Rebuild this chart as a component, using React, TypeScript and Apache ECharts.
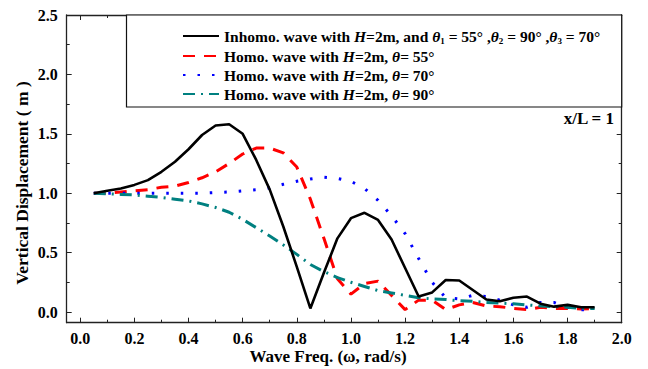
import React, { useEffect, useRef } from "react";
import * as echarts from "echarts";

const FREQ = [0.05, 0.1, 0.15, 0.2, 0.25, 0.3, 0.35, 0.4, 0.45, 0.5, 0.55, 0.6, 0.65, 0.7, 0.75, 0.8, 0.85, 0.9, 0.95, 1.0, 1.05, 1.1, 1.15, 1.2, 1.25, 1.3, 1.35, 1.4, 1.45, 1.5, 1.55, 1.6, 1.65, 1.7, 1.75, 1.8, 1.85, 1.9];

const INHOMO = [1.0, 1.02, 1.04, 1.07, 1.11, 1.18, 1.265, 1.37, 1.49, 1.57, 1.58, 1.5, 1.28, 1.03, 0.72, 0.38, 0.03, 0.33, 0.62, 0.79, 0.835, 0.775, 0.61, 0.37, 0.13, 0.165, 0.27, 0.265, 0.185, 0.105, 0.09, 0.12, 0.13, 0.07, 0.045, 0.06, 0.04, 0.04];
const HOMO55 = [1.0, 1.0, 1.01, 1.02, 1.03, 1.05, 1.06, 1.09, 1.13, 1.18, 1.25, 1.33, 1.38, 1.38, 1.34, 1.22, 0.95, 0.62, 0.28, 0.15, 0.24, 0.26, 0.14, 0.02, 0.1, 0.1, 0.02, 0.06, 0.08, 0.05, 0.045, 0.03, 0.02, 0.04, 0.03, 0.03, 0.025, 0.03];
const HOMO70 = [1.0, 1.0, 1.0, 1.0, 1.0, 1.0, 1.0, 1.0, 1.0, 1.005, 1.01, 1.02, 1.03, 1.045, 1.075, 1.1, 1.12, 1.135, 1.125, 1.1, 1.04, 0.94, 0.81, 0.66, 0.45, 0.25, 0.12, 0.11, 0.14, 0.13, 0.1, 0.06, 0.04, 0.08, 0.08, 0.04, 0.02, 0.02];
const HOMO90 = [1.0, 0.995, 0.99, 0.985, 0.975, 0.965, 0.95, 0.935, 0.91, 0.88, 0.84, 0.78, 0.71, 0.64, 0.565, 0.485, 0.4, 0.34, 0.29, 0.25, 0.215, 0.18, 0.16, 0.14, 0.12, 0.11, 0.105, 0.095, 0.09, 0.08, 0.075, 0.07, 0.06, 0.05, 0.045, 0.04, 0.03, 0.03];

const X_MAJOR = [0, 0.2, 0.4, 0.6, 0.8, 1.0, 1.2, 1.4, 1.6, 1.8, 2.0];
const X_MINOR = [0.1, 0.3, 0.5, 0.7, 0.9, 1.1, 1.3, 1.5, 1.7, 1.9];
const Y_MAJOR = [0, 0.5, 1.0, 1.5, 2.0, 2.5];
const Y_MINOR = [0.25, 0.75, 1.25, 1.75, 2.25];

const SERIES_NAMES = ["inhomo", "homo55", "homo70", "homo90"];
const LEGEND_TEXT: Record<string, string> = {
  inhomo: "{b|Inhomo. wave with }{i|H}{b|=2m, and }{t|θ}{s|1}{b| = 55° ,}{t|θ}{s|2}{b| = 90° ,}{t|θ}{s|3}{b| = 70°}",
  homo55: "{b|Homo. wave with }{i|H}{b|=2m, }{t|θ}{b|= 55°}",
  homo70: "{b|Homo. wave with }{i|H}{b|=2m, }{t|θ}{b|= 70°}",
  homo90: "{b|Homo. wave with }{i|H}{b|=2m, }{t|θ}{b|= 90°}",
};

const FONT = "'Times New Roman', 'Liberation Serif', serif";
const AX = "#222";

function zip(ys: number[]) {
  return FREQ.map((x, i) => [x, ys[i]]);
}

export default function App() {
  const ref = useRef<HTMLDivElement>(null);
  useEffect(() => {
    if (!ref.current) return;
    const chart = echarts.init(ref.current, null, { renderer: "svg" });
    const xBase = { type: "value", min: -0.05, max: 2.0, gridIndex: 0, splitLine: { show: false } };
    const yBase = { type: "value", min: -0.09, max: 2.5, gridIndex: 0, splitLine: { show: false } };
    const lbl = { fontFamily: FONT, fontWeight: "bold", fontSize: 16, color: "#000" };
    const LF = 15.5;
    const rich = {
      b: { fontFamily: FONT, fontWeight: "bold", fontSize: LF, color: "#000", lineHeight: 18 },
      i: { fontFamily: FONT, fontWeight: "bold", fontStyle: "italic", fontSize: LF, color: "#000", lineHeight: 18 },
      t: { fontFamily: FONT, fontWeight: "bold", fontStyle: "italic", fontSize: LF, color: "#000", lineHeight: 18 },
      s: { fontFamily: FONT, fontWeight: "bold", fontSize: 9, color: "#000", verticalAlign: "bottom", lineHeight: 18 },
    };
    chart.setOption({
      animation: false,
      backgroundColor: "#fff",
      grid: { left: 66.7, right: 26.3, top: 15, bottom: 46.3, show: false },
      xAxis: [
        {
          ...xBase,
          position: "bottom",
          axisLine: { show: true, onZero: false, lineStyle: { color: AX, width: 1.3 } },
          axisTick: { show: true, inside: true, length: 5, customValues: X_MAJOR, lineStyle: { color: AX, width: 1 } },
          axisLabel: { ...lbl, margin: 8, customValues: X_MAJOR, formatter: (v: number) => v.toFixed(1) },
        },
        {
          ...xBase,
          position: "bottom",
          axisLine: { show: false, onZero: false },
          axisTick: { show: true, inside: true, length: 3, customValues: X_MINOR, lineStyle: { color: AX, width: 1 } },
          axisLabel: { show: false },
        },
        {
          ...xBase,
          position: "top",
          axisLine: { show: true, onZero: false, lineStyle: { color: AX, width: 1.3 } },
          axisTick: { show: true, inside: true, length: 5, customValues: X_MAJOR, lineStyle: { color: AX, width: 1 } },
          axisLabel: { show: false },
        },
        {
          ...xBase,
          position: "top",
          axisLine: { show: false, onZero: false },
          axisTick: { show: true, inside: true, length: 3, customValues: X_MINOR, lineStyle: { color: AX, width: 1 } },
          axisLabel: { show: false },
        },
      ],
      yAxis: [
        {
          ...yBase,
          position: "left",
          axisLine: { show: true, onZero: false, lineStyle: { color: AX, width: 1.3 } },
          axisTick: { show: true, inside: true, length: 5, customValues: Y_MAJOR, lineStyle: { color: AX, width: 1 } },
          axisLabel: { ...lbl, margin: 9, customValues: Y_MAJOR, formatter: (v: number) => v.toFixed(1) },
        },
        {
          ...yBase,
          position: "left",
          axisLine: { show: false, onZero: false },
          axisTick: { show: true, inside: true, length: 3, customValues: Y_MINOR, lineStyle: { color: AX, width: 1 } },
          axisLabel: { show: false },
        },
        {
          ...yBase,
          position: "right",
          axisLine: { show: true, onZero: false, lineStyle: { color: AX, width: 1.3 } },
          axisTick: { show: true, inside: true, length: 5, customValues: Y_MAJOR, lineStyle: { color: AX, width: 1 } },
          axisLabel: { show: false },
        },
        {
          ...yBase,
          position: "right",
          axisLine: { show: false, onZero: false },
          axisTick: { show: true, inside: true, length: 3, customValues: Y_MINOR, lineStyle: { color: AX, width: 1 } },
          axisLabel: { show: false },
        },
      ],
      legend: {
        orient: "vertical",
        left: 182,
        top: 28,
        itemWidth: 36,
        itemHeight: 14,
        itemGap: 3,
        padding: 0,
        data: SERIES_NAMES,
        itemStyle: { opacity: 0 },
        formatter: (name: string) => LEGEND_TEXT[name],
        textStyle: { fontFamily: FONT, fontWeight: "bold", fontSize: LF, color: "#000", rich },
        z: 5,
      },
      graphic: [
        {
          type: "rect",
          z: 3,
          shape: { x: 126.5, y: 15, width: 495.2, height: 92 },
          style: { fill: "#fff", stroke: "#111", lineWidth: 1.2 },
        },
        {
          type: "text",
          z: 5,
          x: 614,
          y: 118,
          style: { text: "x/L = 1", align: "right", verticalAlign: "middle", fontFamily: FONT, fontWeight: "bold", fontSize: 17, fill: "#000" },
        },
        {
          type: "text",
          x: 22,
          y: 183,
          rotation: Math.PI / 2,
          style: { text: "Vertical Displacement ( m )", align: "center", verticalAlign: "middle", fontFamily: FONT, fontWeight: "bold", fontSize: 17.5, fill: "#000" },
        },
        {
          type: "text",
          x: 328,
          y: 356,
          style: { text: "Wave Freq. (ω, rad/s)", align: "center", verticalAlign: "middle", fontFamily: FONT, fontWeight: "bold", fontSize: 17, fill: "#000" },
        },
      ],
      series: [
        {
          name: "inhomo",
          type: "line",
          data: zip(INHOMO),
          symbol: "none",
          z: 4,
          itemStyle: { color: "#000" },
          lineStyle: { color: "#000", width: 2.6 },
        },
        {
          name: "homo55",
          type: "line",
          data: zip(HOMO55),
          symbol: "none",
          itemStyle: { color: "#ff0000" },
          lineStyle: { color: "#ff0000", width: 3, type: [12, 9] },
        },
        {
          name: "homo70",
          type: "line",
          data: zip(HOMO70),
          symbol: "none",
          itemStyle: { color: "#0000ff" },
          lineStyle: { color: "#0000ff", width: 3, type: [2.5, 12] },
        },
        {
          name: "homo90",
          type: "line",
          data: zip(HOMO90),
          symbol: "none",
          itemStyle: { color: "#008080" },
          lineStyle: { color: "#008080", width: 3, type: [12, 6, 2, 6] },
        },
      ],
    });
    return () => chart.dispose();
  }, []);
  return <div ref={ref} style={{ position: "fixed", left: 0, top: 0, width: 648, height: 369 }} />;
}
